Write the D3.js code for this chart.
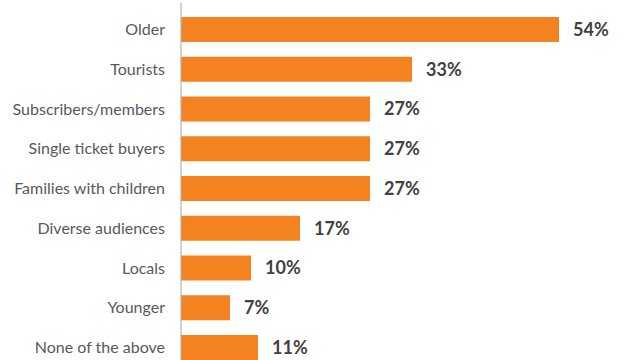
<!DOCTYPE html>
<html>
<head>
<meta charset="utf-8">
<script src="https://cdn.jsdelivr.net/npm/d3@7"></script>
<style>
  html, body { margin: 0; padding: 0; background: #fff; }
  svg { display: block; }
</style>
</head>
<body>
<svg id="chart" width="625" height="360"></svg>
<script>
const categories = [
  "Older", "Tourists", "Subscribers/members", "Single ticket buyers",
  "Families with children", "Diverse audiences", "Locals", "Younger",
  "None of the above"
];
const values = [54, 33, 27, 27, 27, 17, 10, 7, 11];

const svg = d3.select("#chart");
const x0 = 181;

const x = d3.scaleLinear().domain([0, 60]).range([x0, x0 + 420]);
const y = d3.scaleBand().domain(categories).range([17, 360])
  .paddingInner(0.371).paddingOuter(0);

const data = categories.map((c, i) => ({ c, v: values[i] }));

svg.selectAll("rect.bar").data(data).join("rect")
  .attr("class", "bar")
  .attr("x", x(0))
  .attr("y", d => y(d.c))
  .attr("width", d => x(d.v) - x(0))
  .attr("height", y.bandwidth())
  .attr("fill", "#F58220");

// vertical baseline
svg.append("line")
  .attr("x1", x0).attr("x2", x0)
  .attr("y1", 3).attr("y2", 360)
  .attr("stroke", "#b3b3b3").attr("stroke-width", 1.2);

// category labels
svg.selectAll("text.cat").data(data).join("text")
  .attr("class", "cat")
  .attr("x", 165)
  .attr("y", d => y(d.c) + y.bandwidth() / 2)
  .attr("dy", "0.35em")
  .attr("text-anchor", "end")
  .attr("font-family", "Lato, sans-serif")
  .attr("font-size", 16)
  .attr("fill", "#58595b")
  .text(d => d.c);

// value labels
svg.selectAll("text.val").data(data).join("text")
  .attr("class", "val")
  .attr("x", d => x(d.v) + 14)
  .attr("y", d => y(d.c) + y.bandwidth() / 2)
  .attr("dy", "0.36em")
  .attr("font-family", "Lato, sans-serif")
  .attr("font-weight", "bold")
  .attr("font-size", 18)
  .attr("fill", "#414042")
  .text(d => d.v + "%");
</script>
</body>
</html>
